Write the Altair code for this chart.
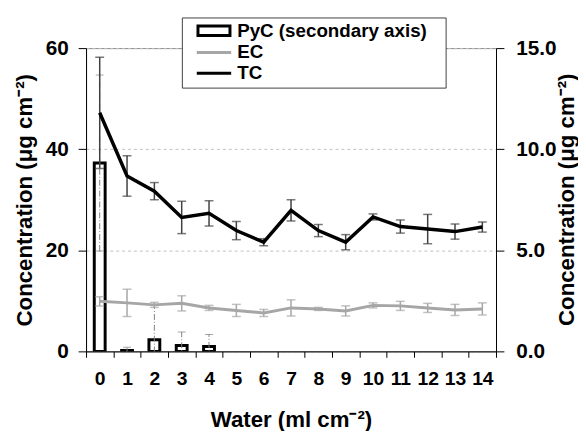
import altair as alt
import pandas as pd

water = list(range(15))
tc = [47.2, 34.7, 31.7, 26.5, 27.3, 23.9, 21.6, 27.9, 23.9, 21.6, 26.6, 24.7, 24.2, 23.7, 24.6]
tc_err = [11.0, 4.0, 1.7, 3.2, 2.5, 1.8, 0.7, 2.1, 1.2, 1.5, 0.6, 1.3, 2.9, 1.5, 1.0]
ec = [9.9, 9.6, 9.2, 9.5, 8.6, 8.1, 7.6, 8.6, 8.4, 8.0, 9.1, 9.0, 8.6, 8.2, 8.4]
ec_err = [0.9, 2.7, 0.5, 1.5, 0.5, 1.2, 0.7, 1.6, 0.3, 1.0, 0.5, 0.9, 0.9, 1.1, 1.2]
pyc_water = [0, 1, 2, 3, 4]
pyc = [9.32, 0.05, 0.57, 0.29, 0.24]
pyc_err = [4.35, 0.16, 1.7, 0.67, 0.6]

series_names = ["PyC (secondary axis)", "EC", "TC"]

FONT = "Liberation Sans"

lines_df = pd.DataFrame({
    "w": water * 2,
    "v": ec + tc,
    "e": ec_err + tc_err,
    "s": ["EC"] * 15 + ["TC"] * 15,
})
pyc_df = pd.DataFrame({"w": pyc_water, "v": pyc, "e": pyc_err})
legend_df = pd.DataFrame({"w": [0, 0, 0], "v": [None, None, None], "s": series_names})

xscale = alt.Scale(type="band", paddingInner=0, paddingOuter=0, domain=water)
xenc = alt.X("w:O", scale=xscale, sort=water,
             axis=alt.Axis(title="Water (ml cm⁻²)", labelAngle=0, tickBand="extent",
                           tickSize=6, labelPadding=13, titlePadding=21,
                           domainColor="black", tickColor="black", grid=False))

yleft = alt.Scale(domain=[0, 60], nice=False, zero=True)
yright = alt.Scale(domain=[0, 15], nice=False, zero=True)

left_axis = alt.Axis(title="Concentration (μg cm⁻²)", values=[0, 20, 40, 60], orient="left",
                     tickSize=8, labelPadding=10, titlePadding=9, grid=True,
                     gridDash=[3, 3], gridColor="#c0c0c0", domainColor="black", tickColor="black")
right_axis = alt.Axis(title="Concentration (μg cm⁻²)", values=[0, 5, 10, 15], format=".1f", orient="right",
                      tickSize=8, labelPadding=12, grid=False,
                      titleAngle=270, titleBaseline="middle", titleAlign="center",
                      titleX=71, titleY=153,
                      domainColor="black", tickColor="black")

# Right-axis group: PyC bars + dash-dot error bars
bars = alt.Chart(pyc_df).mark_bar(size=11, fill="white", fillOpacity=0, stroke="black",
                                  strokeWidth=3, clip=True).encode(
    x=xenc,
    y=alt.Y("v:Q", scale=yright, axis=right_axis),
)
pyc_base = alt.Chart(pyc_df).transform_calculate(lo="datum.v - datum.e", hi="datum.v + datum.e")
pyc_rule = pyc_base.mark_rule(color="#808080", strokeWidth=1, strokeDash=[6, 2, 1, 2], clip=True).encode(
    x=alt.X("w:O", scale=xscale, sort=water),
    y=alt.Y("lo:Q", scale=yright), y2="hi:Q")
pyc_cap_hi = pyc_base.mark_tick(color="#808080", size=8, thickness=1, clip=True).encode(
    x=alt.X("w:O", scale=xscale, sort=water), y=alt.Y("hi:Q", scale=yright))
pyc_cap_lo = pyc_base.mark_tick(color="#808080", size=8, thickness=1, clip=True).encode(
    x=alt.X("w:O", scale=xscale, sort=water), y=alt.Y("lo:Q", scale=yright))
right_group = alt.layer(bars, pyc_rule, pyc_cap_hi, pyc_cap_lo)

# Left-axis group: EC and TC lines with error bars, plus legend
err_scale = alt.Scale(domain=["EC", "TC"], range=["#a6a6a6", "#404040"])
lbase = alt.Chart(lines_df).transform_calculate(lo="datum.v - datum.e", hi="datum.v + datum.e")
lrule = lbase.mark_rule(strokeWidth=1.5).encode(
    x=alt.X("w:O", scale=xscale, sort=water),
    y=alt.Y("lo:Q", scale=yleft, axis=left_axis), y2="hi:Q",
    stroke=alt.Stroke("s:N", scale=err_scale, legend=None))
lcap_hi = lbase.mark_tick(size=9, thickness=1.5).encode(
    x=alt.X("w:O", scale=xscale, sort=water), y=alt.Y("hi:Q", scale=yleft),
    fill=alt.Fill("s:N", scale=err_scale, legend=None))
lcap_lo = lbase.mark_tick(size=9, thickness=1.5).encode(
    x=alt.X("w:O", scale=xscale, sort=water), y=alt.Y("lo:Q", scale=yleft),
    fill=alt.Fill("s:N", scale=err_scale, legend=None))

ec_line = alt.Chart(lines_df).transform_filter("datum.s == 'EC'").mark_line(
    color="#a6a6a6", strokeWidth=3).encode(
    x=alt.X("w:O", scale=xscale, sort=water), y=alt.Y("v:Q", scale=yleft))
tc_line = alt.Chart(lines_df).transform_filter("datum.s == 'TC'").mark_line(
    color="black", strokeWidth=3.5).encode(
    x=alt.X("w:O", scale=xscale, sort=water), y=alt.Y("v:Q", scale=yleft))

legend_pts = alt.Chart(legend_df).mark_point(filled=False, strokeWidth=3).encode(
    x=alt.X("w:O", scale=xscale, sort=water),
    y=alt.Y("v:Q", scale=yleft),
    color=alt.Color("s:N", scale=alt.Scale(domain=series_names, range=["black", "#a6a6a6", "black"]),
                    legend=alt.Legend(title="_", titleOrient="right", titleFontSize=2,
                                      titlePadding=13, titleOpacity=0, titleColor="white",
                                      orient="none", legendX=97, legendY=-31,
                                      strokeColor="#404040", fillColor="white", padding=4,
                                      labelFont=FONT, labelFontWeight="bold", labelFontSize=19,
                                      labelColor="black", labelLimit=0,
                                      symbolStrokeWidth=3,
                                      symbolSize=144, symbolOffset=19, labelOffset=14, rowPadding=1,
                                      symbolOpacity=1, symbolFillColor="transparent")),
    shape=alt.Shape("s:N", scale=alt.Scale(domain=series_names,
                                           range=["M-2.7,-0.8H2.7V0.8H-2.7Z", "M-2.9,0H2.9", "M-2.9,0H2.9"]),
                    legend=None),
)

left_group = alt.layer(lrule, lcap_hi, lcap_lo, ec_line, tc_line, legend_pts)

chart = alt.layer(right_group, left_group).resolve_scale(
    y="independent", color="independent", fill="independent", stroke="independent", shape="independent"
).properties(
    width=415, height=307,
    autosize=alt.AutoSizeParams(type="none"),
    padding={"left": 79, "top": 38, "right": 83, "bottom": 78},
).configure_view(stroke="#888888", strokeWidth=1).configure_axis(
    labelFont=FONT, labelFontWeight="bold", labelFontSize=21, labelColor="black",
    titleFont=FONT, titleFontWeight="bold", titleFontSize=22.5, titleColor="black",
).configure_axisX(labelFontSize=19.5)

chart.save("out.html", embed_options={"renderer": "svg", "actions": False})
